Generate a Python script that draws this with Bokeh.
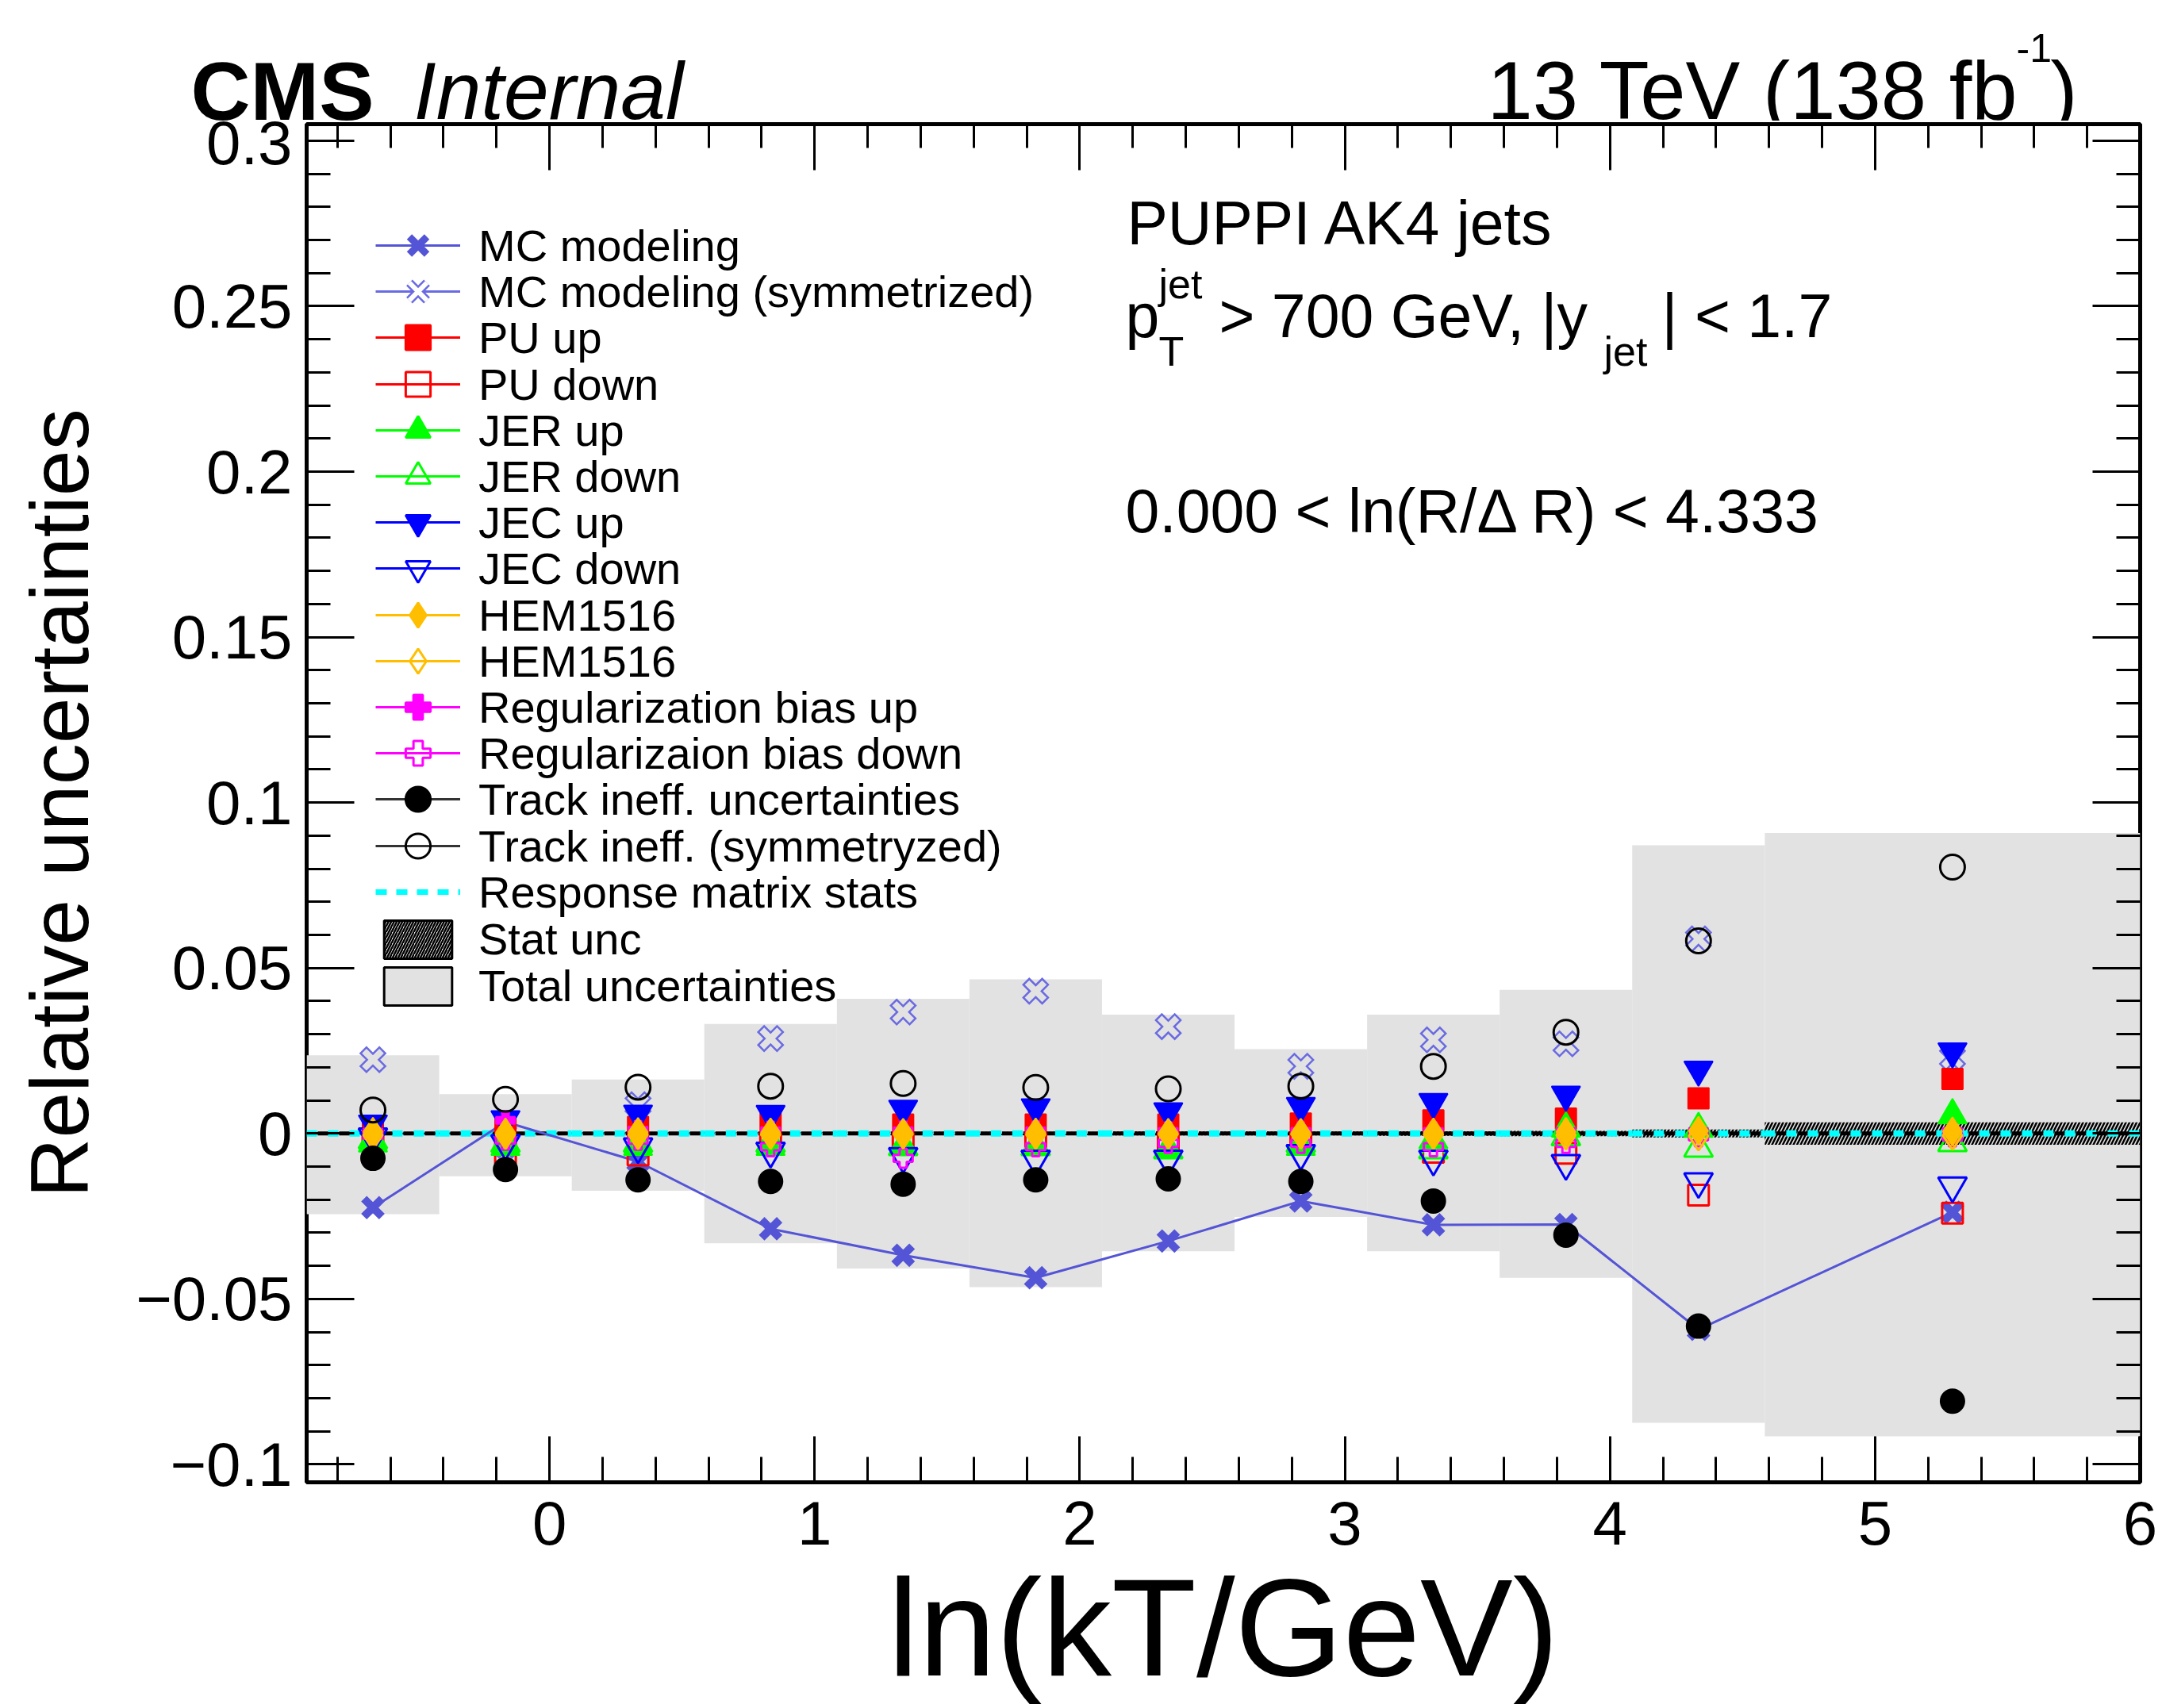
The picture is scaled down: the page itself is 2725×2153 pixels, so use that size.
from bokeh.plotting import figure
from bokeh.layouts import column
from bokeh.models import (Range1d, LinearAxis, FixedTicker, Legend, LegendItem, Label,
                          ColumnDataSource, CustomLabelingPolicy)
from bokeh.embed import file_html
from bokeh.resources import INLINE

# ---------------- data ----------------
bin_edges = [-0.916, -0.416, 0.084, 0.584, 1.084, 1.584, 2.084, 2.584, 3.084, 3.584, 4.084, 4.584, 6.0]

mc_modeling = [-0.0224, 0.0035, -0.0085, -0.0288, -0.0368, -0.0436, -0.0325, -0.0204, -0.0276, -0.0275, -0.0592, -0.0238]
mc_modeling_sym = [0.0223, -0.0035, 0.0087, 0.0287, 0.0367, 0.0430, 0.0323, 0.0203, 0.0283, 0.0271, 0.0588, 0.0230]
pu_up = [0.0010, 0.0012, 0.0020, 0.0030, 0.0027, 0.0027, 0.0027, 0.0030, 0.0040, 0.0045, 0.0106, 0.0165]
pu_down = [-0.0020, -0.0060, -0.0065, -0.0030, -0.0030, -0.0030, -0.0030, -0.0030, -0.0057, -0.0060, -0.0186, -0.0241]
jer_up = [-0.0030, -0.0040, -0.0040, -0.0040, -0.0040, -0.0040, -0.0050, -0.0040, -0.0020, 0.0015, 0.0014, 0.0055]
jer_down = [-0.0020, -0.0030, -0.0030, -0.0030, -0.0040, -0.0040, -0.0050, -0.0030, -0.0050, -0.0010, -0.0045, -0.0028]
jec_up = [0.0030, 0.0043, 0.0060, 0.0059, 0.0075, 0.0079, 0.0067, 0.0083, 0.0095, 0.0117, 0.0193, 0.0248]
jec_down = [-0.0010, -0.0030, -0.0040, -0.0053, -0.0069, -0.0077, -0.0077, -0.0060, -0.0077, -0.0090, -0.0145, -0.0158]
hem_a = [0.0005, 0.0003, 0.0004, 0.0003, 0.0002, 0.0003, 0.0002, 0.0002, 0.0003, 0.0005, 0.0008, 0.0006]
hem_b = [-0.0005, -0.0003, -0.0004, -0.0003, -0.0002, -0.0003, -0.0002, -0.0002, -0.0003, -0.0005, -0.0008, -0.0006]
reg_up = [0.0005, 0.0040, 0.0010, 0.0008, 0.0008, 0.0008, 0.0006, 0.0006, 0.0006, 0.0006, 0.0006, 0.0006]
reg_down = [-0.0005, -0.0020, -0.0020, -0.0040, -0.0075, -0.0040, -0.0030, -0.0030, -0.0040, -0.0030, -0.0010, -0.0010]
track = [-0.0075, -0.0109, -0.0140, -0.0145, -0.0153, -0.0140, -0.0137, -0.0145, -0.0204, -0.0307, -0.0582, -0.0809]
track_sym = [0.0071, 0.0103, 0.0140, 0.0143, 0.0151, 0.0139, 0.0135, 0.0143, 0.0203, 0.0306, 0.0582, 0.0805]
resp_stats = [0.0, 0.0, 0.0, 0.0, 0.0, 0.0, 0.0, 0.0, 0.0, 0.0, 0.0, 0.0]
stat_center = [0.0, 0.0, 0.0, 0.0, 0.0, 0.0, 0.0, 0.0, 0.0, 0.0, 0.0, 0.0]
stat_unc = [0.0003, 0.0003, 0.0004, 0.0004, 0.0005, 0.0005, 0.0006, 0.0006, 0.0007, 0.0008, 0.0012, 0.0034]
total_up = [0.0236, 0.0119, 0.0163, 0.0331, 0.0407, 0.0466, 0.0359, 0.0255, 0.0359, 0.0434, 0.0871, 0.0908]
total_down = [0.0244, 0.0129, 0.0173, 0.0332, 0.0408, 0.0464, 0.0356, 0.0252, 0.0356, 0.0436, 0.0874, 0.0915]

x_major_ticks = [0, 1, 2, 3, 4, 5, 6]
y_major_ticks = [-0.1, -0.05, 0.0, 0.05, 0.1, 0.15, 0.2, 0.25, 0.3]
y_tick_labels = ["\u22120.1", "\u22120.05", "0", "0.05", "0.1", "0.15", "0.2", "0.25", "0.3"]

# ---------------- layout constants ----------------
W, H = 2725, 2153
HDR = 152                       # header strip holding CMS / lumi texts
BL, BR, BT, BB = 386, 28, 3, 285
FONT = "Liberation Sans"
NAN = float("nan")

left = bin_edges[:-1]
right = bin_edges[1:]
centers = [(a + b) / 2 for a, b in zip(left, right)]

# ---------------- header figure (texts above the frame) ----------------
hdr = figure(width=W, height=HDR, x_range=Range1d(0, W), y_range=Range1d(HDR, 0),
             output_backend="svg", toolbar_location=None, x_axis_type=None, y_axis_type=None,
             min_border_left=0, min_border_right=0, min_border_top=0, min_border_bottom=0)
hdr.xgrid.visible = False
hdr.ygrid.visible = False
hdr.outline_line_color = None
hdr.background_fill_color = "white"
hdr.border_fill_color = "white"


def htxt(s, X, Y, size, style="normal", align="left"):
    hdr.add_layout(Label(x=X, y=Y, text=s, text_font=FONT, text_font_size=f"{size}px",
                         text_font_style=style, text_align=align, text_baseline="alphabetic",
                         text_color="black"))


htxt("CMS", 240, 114, 104, "bold")
htxt("Internal", 521, 114, 102, "italic")
htxt("13 TeV (138 fb", 1874, 114, 103)
htxt("-1", 2541, 60, 50)
htxt(")", 2618, 114, 103, align="right")

# ---------------- main figure ----------------
p = figure(width=W, height=H - HDR, x_range=Range1d(-0.916, 6.0), y_range=Range1d(-0.1054, 0.305),
           output_backend="svg", toolbar_location=None, x_axis_type=None, y_axis_type=None,
           min_border_left=BL, min_border_right=BR, min_border_top=BT, min_border_bottom=BB)
p.xgrid.visible = False
p.ygrid.visible = False
p.outline_line_color = "black"
p.outline_line_width = 5
p.background_fill_color = "white"
p.border_fill_color = "white"

try:
    hdr.frame_align = False
    p.frame_align = False
except Exception:
    pass

x_minor = [round(-0.8 + 0.2 * i, 2) for i in range(35) if abs(round(-0.8 + 0.2 * i, 2) - round(-0.8 + 0.2 * i)) > 1e-6]
y_minor = [round(-0.10 + 0.01 * i, 2) for i in range(41) if abs((-0.10 + 0.01 * i) / 0.05 - round((-0.10 + 0.01 * i) / 0.05)) > 1e-6]
xt = FixedTicker(ticks=x_major_ticks, minor_ticks=x_minor)
yt = FixedTicker(ticks=y_major_ticks, minor_ticks=y_minor)


def style_axis(ax, maj, mnr, show_labels):
    ax.axis_line_color = None
    ax.major_tick_in = maj
    ax.major_tick_out = 0
    ax.minor_tick_in = mnr
    ax.minor_tick_out = 0
    ax.major_tick_line_width = 3
    ax.minor_tick_line_width = 3
    ax.major_tick_line_color = "black"
    ax.minor_tick_line_color = "black"
    ax.major_label_text_font = FONT
    ax.major_label_text_color = "black"
    if show_labels:
        ax.major_label_text_font_size = "78px"
    else:
        ax.major_label_text_font_size = "1px"
        ax.major_label_standoff = 0
        ax.major_label_policy = CustomLabelingPolicy(code="return []")


xb = LinearAxis(ticker=xt, axis_label="ln(kT/GeV)")
style_axis(xb, 58, 32, True)
xb.major_label_standoff = 24
xb.axis_label_text_font = FONT
xb.axis_label_text_font_style = "normal"
xb.axis_label_text_font_size = "175px"
xb.axis_label_text_color = "black"
xb.axis_label_text_line_height = 1.0
xb.axis_label_standoff = 4
p.add_layout(xb, "below")

yl = LinearAxis(ticker=yt, axis_label="Relative uncertainties")
style_axis(yl, 60, 30, True)
yl.major_label_standoff = 18
yl.major_label_overrides = {t: s for t, s in zip(y_major_ticks, y_tick_labels)}
yl.axis_label_text_font = FONT
yl.axis_label_text_font_style = "normal"
yl.axis_label_text_font_size = "104px"
yl.axis_label_text_color = "black"
yl.axis_label_standoff = 35
p.add_layout(yl, "left")

xa = LinearAxis(ticker=xt)
style_axis(xa, 58, 30, False)
p.add_layout(xa, "above")
yr = LinearAxis(ticker=yt)
style_axis(yr, 60, 30, False)
p.add_layout(yr, "right")

# ---------------- bands ----------------
band_src = ColumnDataSource(dict(left=left, right=right,
                                 top=list(total_up), bottom=[-v for v in total_down]))
p.quad(left="left", right="right", top="top", bottom="bottom", source=band_src,
       fill_color="#e2e2e2", line_color=None)

stat_src = ColumnDataSource(dict(left=left, right=right,
                                 top=[c + s for c, s in zip(stat_center, stat_unc)],
                                 bottom=[c - s for c, s in zip(stat_center, stat_unc)]))
p.quad(left="left", right="right", top="top", bottom="bottom", source=stat_src,
       fill_color=None, line_color=None, hatch_pattern="/", hatch_color="black",
       hatch_weight=2.5, hatch_scale=9)

p.segment(x0=left, x1=right, y0=resp_stats, y1=resp_stats, line_color="#00ffff",
          line_width=8, line_dash="13 14")
p.segment(x0=left, x1=right, y0=stat_center, y1=stat_center, line_color="black",
          line_width=5, line_dash="13 14", line_dash_offset=13)

# ---------------- series ----------------
MC_C = "#5454d6"
MC_C2 = "#6a6ae2"
ORANGE = "#ffbf00"

p.line(centers, mc_modeling, line_color=MC_C, line_width=3)
p.scatter(centers, mc_modeling, marker="x", size=32, line_color=MC_C, line_width=10)

p.scatter(centers, mc_modeling_sym, marker="x", size=36, line_color=MC_C2, line_width=13)
p.scatter(centers, mc_modeling_sym, marker="x", size=31, line_color="#e2e2e2", line_width=8)

p.scatter(centers, pu_up, marker="square", size=26, fill_color="red", line_color="red", line_width=2)
p.scatter(centers, pu_down, marker="square", size=26, fill_color=None, line_color="red", line_width=3)
p.scatter(centers, jer_up, marker="triangle", size=36, fill_color="#00ff00", line_color="#00ff00", line_width=2)
p.scatter(centers, jer_down, marker="triangle", size=36, fill_color=None, line_color="#00ff00", line_width=3)
p.scatter(centers, jec_up, marker="inverted_triangle", size=36, fill_color="blue", line_color="blue", line_width=2)
p.scatter(centers, jec_down, marker="inverted_triangle", size=36, fill_color=None, line_color="blue", line_width=3)
p.scatter(centers, reg_up, marker="plus", size=24, fill_color="magenta", line_color="magenta", line_width=2)
p.scatter(centers, reg_down, marker="plus", size=24, fill_color=None, line_color="magenta", line_width=3)
p.scatter(centers, hem_a, marker="diamond", size=36, fill_color=ORANGE, line_color=ORANGE, line_width=2)
p.scatter(centers, hem_b, marker="diamond", size=36, fill_color=None, line_color=ORANGE, line_width=3)
p.scatter(centers, track, marker="circle", size=30, fill_color="black", line_color="black", line_width=2)
p.scatter(centers, track_sym, marker="circle", size=31, fill_color=None, line_color="black", line_width=3)

# ---------------- legend (proxy renderers holding a single NaN point) ----------------


def proxy_line(color, width=3, dash="solid"):
    return p.line(x=[NAN], y=[NAN], line_color=color, line_width=width, line_dash=dash)


def proxy_marker(marker, color, filled, lw=3):
    return p.scatter(x=[NAN], y=[NAN], marker=marker, line_color=color,
                     fill_color=color if filled else None, line_width=lw)


GH_MARK = 78   # glyph box height for marker entries
GH_BOX = 60    # glyph box height for filled-area entries
entries = [
    ("MC modeling", [proxy_line(MC_C), proxy_marker("x", MC_C, True, 9)], GH_MARK),
    ("MC modeling (symmetrized)", [
        proxy_line(MC_C2),
        p.scatter(x=[NAN], y=[NAN], marker="x", line_color=MC_C2, line_width=11),
        p.scatter(x=[NAN], y=[NAN], marker="x", line_color="white", line_width=6)], GH_MARK),
    ("PU up", [proxy_line("red"), proxy_marker("square", "red", True)], GH_MARK),
    ("PU down", [proxy_line("red"), proxy_marker("square", "red", False)], GH_MARK),
    ("JER up", [proxy_line("#00ff00"), proxy_marker("triangle", "#00ff00", True)], GH_MARK),
    ("JER down", [proxy_line("#00ff00"), proxy_marker("triangle", "#00ff00", False)], GH_MARK),
    ("JEC up", [proxy_line("blue"), proxy_marker("inverted_triangle", "blue", True)], GH_MARK),
    ("JEC down", [proxy_line("blue"), proxy_marker("inverted_triangle", "blue", False)], GH_MARK),
    ("HEM1516", [proxy_line(ORANGE), proxy_marker("diamond", ORANGE, True)], GH_MARK),
    ("HEM1516", [proxy_line(ORANGE), proxy_marker("diamond", ORANGE, False)], GH_MARK),
    ("Regularization bias up", [proxy_line("magenta"), proxy_marker("plus", "magenta", True)], GH_MARK),
    ("Regularizaion bias down", [proxy_line("magenta"), proxy_marker("plus", "magenta", False)], GH_MARK),
    ("Track ineff. uncertainties", [proxy_line("#333333"), proxy_marker("circle", "black", True)], GH_MARK),
    ("Track ineff. (symmetryzed)", [proxy_line("#333333"), proxy_marker("circle", "black", False)], GH_MARK),
    ("Response matrix stats", [proxy_line("#00ffff", 7, "14 12")], GH_MARK),
    ("Stat unc", [p.quad(left=[NAN], right=[NAN], top=[NAN], bottom=[NAN], fill_color=None,
                         hatch_pattern="/", hatch_color="black", hatch_weight=2.5, hatch_scale=7,
                         line_color="black", line_width=3)], GH_BOX),
    ("Total uncertainties", [p.quad(left=[NAN], right=[NAN], top=[NAN], bottom=[NAN],
                                    fill_color="#e2e2e2", line_color="black", line_width=3)], GH_BOX),
]

FB = H - BB           # canvas y of the frame bottom
LEG_TOP_CENTER = 309  # canvas y of the first legend row centre
LEG_STEP = 58.2
TEXT_H = 69           # row height Bokeh gives a 56px label

for i, (lab, rends, gh) in enumerate(entries):
    row_h = max(gh, TEXT_H)
    cy = LEG_TOP_CENTER + LEG_STEP * i
    lg = Legend(items=[LegendItem(label=lab, renderers=rends)],
                location=(87, round((FB - cy) - row_h / 2)), glyph_width=107, glyph_height=gh,
                label_standoff=23, padding=0, margin=0, spacing=0, border_line_color=None,
                background_fill_alpha=0, label_text_font=FONT, label_text_font_size="56px",
                label_text_color="black", label_height=20)
    p.add_layout(lg)

# ---------------- texts inside the frame ----------------


def txt(s, X, Y, size, style="normal", align="left"):
    p.add_layout(Label(x=X - BL, y=FB - Y, x_units="screen", y_units="screen", text=s,
                       text_font=FONT, text_font_size=f"{size}px", text_font_style=style,
                       text_align=align, text_baseline="alphabetic", text_color="black"))


txt("PUPPI AK4 jets", 1420, 280, 77)
txt("p", 1418, 397, 77)
txt("jet", 1460, 357, 52)
txt("T", 1460, 442, 52)
txt("> 700 GeV, |y", 1536, 397, 77)
txt("jet", 2021, 442, 52)
txt("| < 1.7", 2094, 397, 77)
txt("0.000 < ln(R/\u0394 R) < 4.333", 1418, 643, 77)

layout = column(hdr, p, spacing=0)
open("out.html", "w").write(file_html(layout, INLINE))
